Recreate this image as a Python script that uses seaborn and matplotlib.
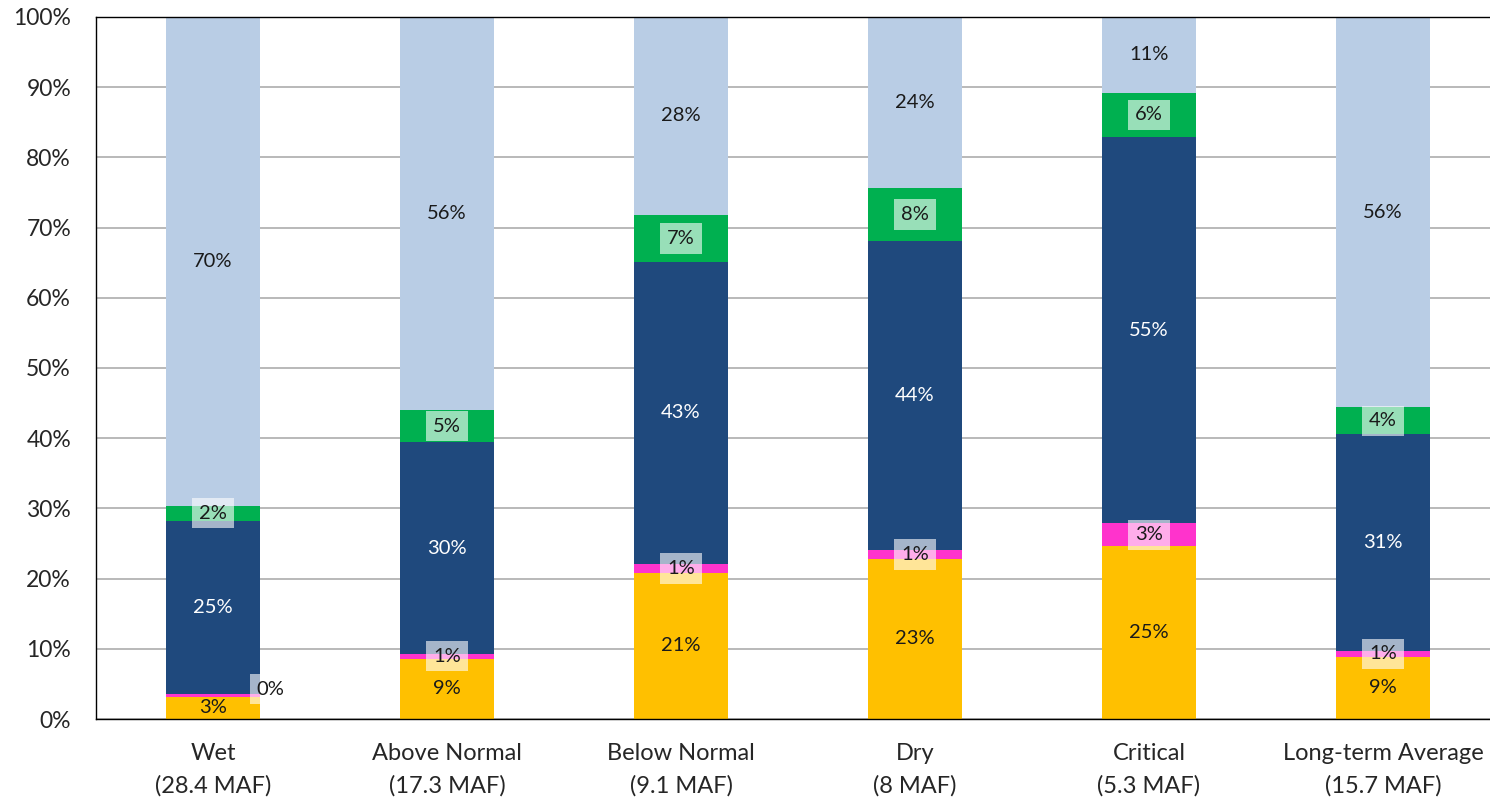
import matplotlib
matplotlib.use("Agg")
import matplotlib.pyplot as plt
import seaborn as sns
import pandas as pd
import numpy as np

# Chart data (share of total, %)
categories = ["Wet\n(28.4 MAF)", "Above Normal\n(17.3 MAF)", "Below Normal\n(9.1 MAF)",
              "Dry\n(8 MAF)", "Critical\n(5.3 MAF)", "Long-term Average\n(15.7 MAF)"]
yellow = [3.2, 8.6, 20.8, 22.8, 24.6, 8.9]
magenta = [0.3, 0.7, 1.3, 1.3, 3.3, 0.8]
dark_blue = [24.7, 30.1, 43.0, 44.0, 55.0, 30.9]
green = [2.2, 4.6, 6.7, 7.5, 6.3, 3.8]
light_blue = [69.6, 56.0, 28.2, 24.4, 10.8, 55.6]

# segments from bottom to top
series = [yellow, magenta, dark_blue, green, light_blue]
colors = ["#FFC000", "#FF33CC", "#1F497D", "#00B050", "#B9CDE5"]
boxed = [False, True, False, True, False]
text_colors = ["#1a1a1a", "#1a1a1a", "white", "#1a1a1a", "#1a1a1a"]

sns.set_style("white")
plt.rcParams["font.family"] = ["Lato", "DejaVu Sans"]

df = pd.DataFrame({"category": categories})
tops = np.cumsum(np.array(series), axis=0)
for k in range(len(series)):
    df[f"top{k}"] = tops[k]

fig = plt.figure(figsize=(14.9, 7.99), dpi=100)
ax = fig.add_axes([96 / 1490, 80 / 799, 1404 / 1490, 702 / 799])

# We draw cumulative bars from the top layer down so each one covers the next
for k in reversed(range(len(series))):
    sns.barplot(data=df, x="category", y=f"top{k}", color=colors[k], width=0.4,
                saturation=1, linewidth=0, ax=ax, zorder=2)

# Segment labels
for i in range(len(categories)):
    bottom = 0
    for k, vals in enumerate(series):
        v = vals[i]
        x, y = i, bottom + v / 2
        if i == 0 and k == 1:
            x, y = i + 0.245, y + 0.9
        kw = {}
        if boxed[k]:
            kw["bbox"] = dict(boxstyle="square,pad=0.33", fc="white", ec="none", alpha=0.6)
        ax.text(x, y, f"{v:.0f}%", ha="center", va="center", fontsize=14.5,
                color=text_colors[k], zorder=5, **kw)
        bottom += v

ax.set_ylim(0, 100)
ax.set_xlim(-0.5, 5.5)
ax.set_yticks(np.arange(0, 101, 10))
ax.set_yticklabels([f"{t}%" for t in range(0, 101, 10)], fontsize=16.5)
ax.set_xticks(range(len(categories)))
ax.set_xticklabels(categories, fontsize=17, linespacing=1.65)
ax.set_xticks(np.arange(-0.5, 6, 1), minor=True)
ax.tick_params(axis="x", which="major", length=0, pad=17)
ax.tick_params(axis="x", which="minor", length=8, width=1, color="black", direction="out")
ax.tick_params(axis="y", length=7, width=1, color="#a6a6a6", direction="out", pad=11)
ax.set_xlabel("")
ax.set_ylabel("")

ax.yaxis.grid(True, color="#a6a6a6", linewidth=1.1, zorder=0)
ax.set_axisbelow(True)
for side in ["left", "bottom", "top"]:
    ax.spines[side].set_color("black")
    ax.spines[side].set_linewidth(1)
ax.spines["right"].set_visible(False)

fig.savefig("out.png", dpi=100)
